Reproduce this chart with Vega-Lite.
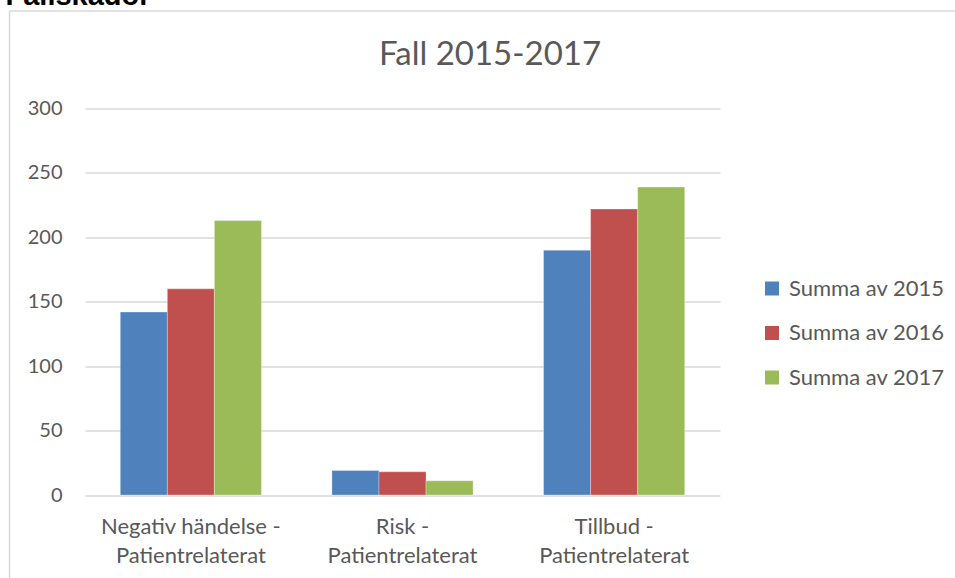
{
  "$schema": "https://vega.github.io/schema/vega-lite/v6.json",
  "width": 635,
  "height": 386.5,
  "autosize": {"type": "none"},
  "padding": {"left": 85, "top": 108.5, "right": 235, "bottom": 83.5},
  "background": "white",
  "data": {
    "values": [
      {"kategori": "Negativ händelse - Patientrelaterat", "serie": "Summa av 2015", "antal": 142},
      {"kategori": "Negativ händelse - Patientrelaterat", "serie": "Summa av 2016", "antal": 160},
      {"kategori": "Negativ händelse - Patientrelaterat", "serie": "Summa av 2017", "antal": 213},
      {"kategori": "Risk - Patientrelaterat", "serie": "Summa av 2015", "antal": 19},
      {"kategori": "Risk - Patientrelaterat", "serie": "Summa av 2016", "antal": 18},
      {"kategori": "Risk - Patientrelaterat", "serie": "Summa av 2017", "antal": 11},
      {"kategori": "Tillbud - Patientrelaterat", "serie": "Summa av 2015", "antal": 190},
      {"kategori": "Tillbud - Patientrelaterat", "serie": "Summa av 2016", "antal": 222},
      {"kategori": "Tillbud - Patientrelaterat", "serie": "Summa av 2017", "antal": 239}
    ]
  },
  "layer": [
    {
      "mark": {"type": "bar", "stroke": "#ffffff", "strokeWidth": 0.5, "strokeOpacity": 0.6},
      "encoding": {
        "x": {
          "field": "kategori",
          "type": "nominal",
          "sort": null,
          "scale": {"paddingInner": 0.333, "paddingOuter": 0.1667},
          "axis": {
            "title": "Fall 2015-2017",
            "titleFont": "Lato",
            "titleFontSize": 33,
            "titleFontWeight": "normal",
            "titleColor": "#595959",
            "titleAlign": "center",
            "titleBaseline": "alphabetic",
            "titleX": 404.5,
            "titleY": -431,
            "labelAngle": 0,
            "domain": false,
            "ticks": false,
            "labelPadding": 21,
            "labelFont": "Lato",
            "labelFontSize": 22,
            "labelColor": "#595959",
            "labelLineHeight": 29,
            "labelLimit": 0,
            "labelExpr": "[split(datum.label, ' - ')[0] + ' -', split(datum.label, ' - ')[1]]"
          }
        },
        "xOffset": {"field": "serie", "type": "nominal", "sort": null},
        "y": {
          "field": "antal",
          "type": "quantitative",
          "scale": {"domain": [0, 300], "nice": false},
          "axis": {
            "values": [0, 50, 100, 150, 200, 250, 300],
            "domain": false,
            "ticks": false,
            "labelPadding": 23,
            "labelFont": "Lato",
            "labelFontSize": 20,
            "labelColor": "#595959",
            "gridColor": "#d9d9d9",
            "gridWidth": 1.5,
            "title": "Fallskador",
            "titleAngle": 0,
            "titleAlign": "left",
            "titleBaseline": "alphabetic",
            "titleX": -80,
            "titleY": -104.5,
            "titleFont": "Liberation Sans",
            "titleFontSize": 29,
            "titleFontWeight": "bold",
            "titleColor": "#000000"
          }
        },
        "color": {
          "field": "serie",
          "type": "nominal",
          "sort": null,
          "scale": {"range": ["#4f81bd", "#c0504d", "#9bbb59"]},
          "legend": {
            "title": null,
            "orient": "none",
            "legendX": 676,
            "legendY": 169,
            "symbolType": "square",
            "symbolSize": 196,
            "symbolStrokeWidth": 0,
            "labelFont": "Lato",
            "labelFontSize": 22,
            "labelColor": "#595959",
            "labelOffset": 6,
            "rowPadding": 22.5
          }
        }
      }
    },
    {
      "mark": {"type": "bar", "opacity": 0},
      "encoding": {
        "x": {
          "field": "kategori",
          "type": "nominal",
          "sort": null,
          "scale": {"range": [-76, 870]},
          "axis": {
            "orient": "top",
            "offset": 98,
            "title": null,
            "labels": false,
            "ticks": false,
            "grid": false,
            "domain": true,
            "domainColor": "#d9d9d9",
            "domainWidth": 1.5
          }
        },
        "y": {
          "field": "antal",
          "type": "quantitative",
          "scale": {"domain": [0, 300], "nice": false, "range": [470, -98]},
          "axis": {
            "orient": "left",
            "offset": 76,
            "title": null,
            "labels": false,
            "ticks": false,
            "grid": false,
            "domain": true,
            "domainColor": "#d9d9d9",
            "domainWidth": 1.5
          }
        }
      }
    }
  ],
  "resolve": {"scale": {"x": "independent", "y": "independent"}, "axis": {"x": "independent", "y": "independent"}},
  "config": {"view": {"stroke": null}}
}
